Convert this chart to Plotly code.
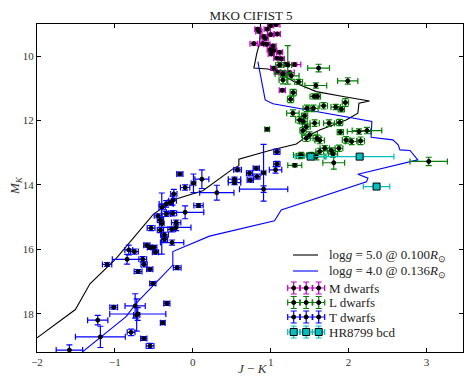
import plotly.graph_objects as go

# ---- model tracks (J-K, M_K) ----
g5_jk = [0.87, 0.858, 0.823, 0.785, 0.965, 1.072, 1.372, 1.587, 1.93, 2.27, 2.134, 2.12, 1.97, 1.63, 1.458,
         1.33, 0.986, 0.592, 0.592, 0.515, 0.129, -0.256, -0.513, -0.985, -1.32, -1.507, -2.0]
g5_mk = [9.0, 9.595, 9.906, 10.37, 10.40, 10.48, 10.89, 11.10, 11.25, 11.39, 11.46, 11.77, 11.98, 12.29, 12.50,
         12.73, 12.93, 13.20, 13.40, 13.50, 14.18, 14.47, 14.93, 16.29, 17.07, 17.87, 18.75]

g4_jk = [0.836, 0.90, 0.93, 1.03, 1.97, 2.30, 2.29, 2.57, 2.64, 2.66, 2.79, 2.89, 2.12, 2.25, 2.23,
         1.136, 1.05, 0.215, -0.256, -0.256, -0.727, -0.856, -1.413]
g4_mk = [10.17, 10.94, 11.36, 11.48, 11.88, 12.03, 12.52, 12.60, 12.76, 12.91, 12.93, 13.22, 13.67, 13.79, 13.90,
         14.78, 15.11, 15.59, 16.07, 16.49, 17.68, 18.09, 19.18]

# ---- M dwarfs ----
m_jk = [0.836, 0.849, 0.956, 1.07, 1.0, 1.085, 0.913, 0.785, 0.9, 0.952, 1.03, 0.995, 1.04, 1.115, 1.008,
        1.08, 1.136, 1.188, 1.04, 1.085, 1.157, 1.243, 1.307, 1.15, 1.0, 0.93]
m_mk = [9.16, 9.23, 9.16, 9.02, 9.33, 9.31, 9.39, 9.61, 9.61, 9.63, 9.68, 9.80, 9.82, 9.88, 9.93,
        10.06, 10.08, 10.25, 10.37, 10.49, 10.54, 10.51, 10.26, 11.06, 9.05, 9.45]
m_ejk = [0.04, 0.04, 0.04, 0.05, 0.04, 0.04, 0.04, 0.05, 0.04, 0.04, 0.04, 0.04, 0.04, 0.04, 0.04,
         0.04, 0.04, 0.05, 0.04, 0.04, 0.05, 0.06, 0.08, 0.04, 0.04, 0.04]
m_emk = [0.05] * len(m_jk)

# ---- L dwarfs ----
l_jk = [1.616, 1.99, 0.956, 3.03, 1.81, 1.31, 1.22, 1.115, 1.158, 1.158, 1.265, 1.36, 1.58, 1.29, 1.256,
        1.556, 1.60, 1.68, 1.96, 1.835, 1.908, 1.55, 1.466, 1.286, 1.436, 1.372, 1.42, 1.565, 1.75, 1.886,
        1.458, 1.416, 1.5, 1.595, 1.458, 1.63, 1.895, 2.134, 2.237, 1.97, 2.04, 2.155, 1.877, 1.78, 1.8,
        1.63, 1.587, 1.393, 1.695, 1.525, 1.38]
l_mk = [10.37, 10.77, 12.27, 13.27, 13.31, 13.39, 10.27, 10.27, 10.55, 10.74, 10.61, 10.8, 10.91, 11.13, 11.34,
        11.25, 11.25, 11.54, 11.44, 11.58, 11.65, 11.62, 11.62, 11.77, 11.85, 11.98, 12.03, 12.08, 12.08, 12.06,
        12.19, 12.31, 12.45, 12.55, 12.55, 12.62, 12.36, 12.34, 12.31, 12.6, 12.65, 12.63, 12.86, 12.93, 13.04,
        12.96, 13.12, 13.07, 12.86, 13.07, 13.1]
l_ejk = [0.14, 0.13, 0.03, 0.24, 0.14, 0.09, 0.05, 0.05, 0.1, 0.05, 0.1, 0.05, 0.14, 0.04, 0.04,
         0.05, 0.04, 0.05, 0.04, 0.06, 0.04, 0.06, 0.05, 0.08, 0.04, 0.05, 0.05, 0.06, 0.07, 0.04,
         0.05, 0.04, 0.1, 0.05, 0.05, 0.06, 0.04, 0.15, 0.19, 0.05, 0.08, 0.05, 0.05, 0.05, 0.06,
         0.05, 0.1, 0.1, 0.06, 0.06, 0.05]
l_emk = [0.12, 0.1, 0.05, 0.13, 0.2, 0.05, 0.6, 0.08, 0.1, 0.12, 0.1, 0.08, 0.08, 0.1, 0.1,
         0.08, 0.08, 0.1, 0.12, 0.08, 0.08, 0.1, 0.1, 0.1, 0.08, 0.1, 0.08, 0.1, 0.1, 0.1,
         0.08, 0.1, 0.1, 0.1, 0.1, 0.1, 0.08, 0.08, 0.1, 0.1, 0.1, 0.12, 0.1, 0.08, 0.1,
         0.1, 0.1, 0.08, 0.08, 0.08, 0.08]

# ---- T dwarfs ----
t_jk = [1.08, 1.08, 1.063, 0.909, 0.91, 0.815, 0.729, 0.824, 0.738, 0.575, 0.536, 0.536, 0.117, 0.009, -0.166,
        -0.098, 0.309, 0.074, -0.243, -0.26, -0.29, -0.342, -0.393, -0.445, -0.398, -0.342, -0.256, -0.098, -0.213, -0.213,
        -0.27, -0.415, -0.535, -0.415, -0.363, -0.363, -0.265, -0.59, -0.548, -0.5, -0.479, -0.749, -0.822, -0.843, -0.642,
        -0.625, -0.702, -0.552, -1.1, -0.513, -0.2, -0.333, -0.74, -1.015, -0.706, -0.72, -1.22, -0.385, -1.186, -0.792,
        -0.629, -0.548, -1.584]
t_mk = [12.97, 13.35, 13.53, 13.62, 14.13, 13.48, 13.64, 13.74, 13.85, 13.53, 13.82, 13.93, 13.82, 13.95, 13.66,
        14.08, 14.24, 14.64, 14.28, 14.49, 14.55, 14.59, 14.69, 14.96, 15.2, 14.9, 14.88, 14.85, 15.17, 15.32,
        15.38, 15.09, 15.34, 15.4, 15.55, 15.69, 15.79, 15.87, 15.94, 15.94, 16.09, 16.07, 16.02, 16.31, 16.31,
        16.47, 16.69, 16.62, 16.47, 17.06, 16.57, 17.68, 17.76, 17.8, 18.01, 18.04, 18.2, 18.28, 18.72, 18.58,
        18.77, 19.0, 19.13]
t_ejk = [0.04, 0.04, 0.08, 0.03, 0.31, 0.04, 0.04, 0.04, 0.04, 0.05, 0.08, 0.08, 0.09, 0.03, 0.04,
         0.06, 0.22, 0.06, 0.04, 0.05, 0.04, 0.09, 0.04, 0.05, 0.03, 0.06, 0.05, 0.24, 0.06, 0.19,
         0.05, 0.04, 0.05, 0.04, 0.05, 0.04, 0.15, 0.04, 0.035, 0.04, 0.04, 0.05, 0.05, 0.19, 0.05,
         0.04, 0.05, 0.04, 0.06, 0.04, 0.05, 0.04, 0.13, 0.05, 0.36, 0.04, 0.13, 0.03, 0.32, 0.05,
         0.04, 0.05, 0.17]
t_emk = [0.08, 0.08, 0.1, 0.88, 0.1, 0.06, 0.08, 0.08, 0.06, 0.06, 0.06, 0.06, 0.29, 0.29, 0.06,
         0.08, 0.23, 0.06, 0.14, 0.14, 0.08, 0.1, 0.08, 0.06, 0.95, 0.08, 0.08, 0.2, 0.08, 0.1,
         0.08, 0.08, 0.08, 0.08, 0.08, 0.08, 0.08, 0.06, 0.06, 0.06, 0.06, 0.08, 0.15, 0.15, 0.08,
         0.08, 0.06, 0.06, 0.06, 0.06, 0.06, 0.06, 0.38, 0.06, 0.2, 0.5, 0.15, 0.06, 0.33, 0.1,
         0.06, 0.08, 0.16]

# ---- HR8799 bcd ----
hr_jk = [1.514, 2.143, 2.36]
hr_mk = [13.12, 13.12, 14.05]
hr_ejk = [0.2, 0.44, 0.17]
hr_emk = [0.05, 0.05, 0.05]

# ---- legend labels ----
line_labels = ["log<i>g</i> = 5.0 @ 0.100<i>R</i><sub>⊙</sub>", "log<i>g</i> = 4.0 @ 0.136<i>R</i><sub>⊙</sub>"]
group_labels = ["M dwarfs", "L dwarfs", "T dwarfs", "HR8799 bcd"]

SERIF = "Liberation Serif"
C_M, C_L, C_T, C_HR = "#bf00bf", "#008000", "#0000ff", "#00bfbf"

# plot-area geometry in pixels (for the hand-built legend)
W, H = 464, 376
ML, MR, MT, MB = 37, 1, 24, 24
PW, PH = W - ML - MR, H - MT - MB


def px2x(px):
    return (px - ML) / PW


def px2y(py):
    return (H - MB - py) / PH


fig = go.Figure()

fig.add_trace(go.Scatter(x=g5_jk, y=g5_mk, mode="lines", line=dict(color="black", width=1.1), name=line_labels[0]))
fig.add_trace(go.Scatter(x=g4_jk, y=g4_mk, mode="lines", line=dict(color="#0000ff", width=1.1), name=line_labels[1]))


def pts(x, y, ex, ey, color, name, symbol="circle", fill="black", size=4, xa="x", ya="y"):
    return go.Scatter(
        x=x, y=y, mode="markers", name=name, xaxis=xa, yaxis=ya,
        marker=dict(symbol=symbol, size=size, color=fill, line=dict(color="black", width=1)),
        error_x=dict(type="data", array=ex, color=color, thickness=1.2, width=3),
        error_y=dict(type="data", array=ey, color=color, thickness=1.2, width=3),
    )


fig.add_trace(pts(m_jk, m_mk, m_ejk, m_emk, C_M, group_labels[0]))
fig.add_trace(pts(l_jk, l_mk, l_ejk, l_emk, C_L, group_labels[1]))
fig.add_trace(pts(t_jk, t_mk, t_ejk, t_emk, C_T, group_labels[2]))
fig.add_trace(pts(hr_jk, hr_mk, hr_ejk, hr_emk, C_HR, group_labels[3], symbol="square", fill=C_HR, size=7))

# ---- hand-built legend (matplotlib style, three samples per entry) on an overlay axis ----
leg_x = [px2x(293.7), px2x(306.2), px2x(318.7)]
leg_ex = [6 / PW] * 3
leg_ey = [6 / PH] * 3
leg_rows_lines = [255, 271]
leg_rows_pts = [288, 302.5, 317, 332]
text_x = px2x(327)

for row, col in zip(leg_rows_lines, ["black", "#0000ff"]):
    fig.add_trace(go.Scatter(x=[px2x(293), px2x(318)], y=[px2y(row)] * 2, mode="lines",
                             line=dict(color=col, width=1.1), xaxis="x2", yaxis="y2", hoverinfo="skip"))
styles = [(C_M, "circle", "black", 4), (C_L, "circle", "black", 4), (C_T, "circle", "black", 4),
          (C_HR, "square", C_HR, 7)]
for row, (col, sym, fill, sz) in zip(leg_rows_pts, styles):
    fig.add_trace(pts(leg_x, [px2y(row)] * 3, leg_ex, leg_ey, col, "", symbol=sym, fill=fill, size=sz,
                      xa="x2", ya="y2"))

annotations = []
for row, lab in zip(leg_rows_lines + leg_rows_pts, line_labels + group_labels):
    annotations.append(dict(x=text_x, y=px2y(row), xref="x2", yref="y2", text=lab, showarrow=False,
                            xanchor="left", yanchor="middle", font=dict(family=SERIF, size=13, color="#222")))
annotations.append(dict(x=px2x(253), y=px2y(368), xref="paper", yref="paper", text="<i>J</i> − <i>K</i>",
                        showarrow=False, xanchor="center", yanchor="middle",
                        font=dict(family=SERIF, size=13, color="#333")))
annotations.append(dict(x=px2x(15), y=px2y(186), xref="paper", yref="paper",
                        text="<i>M</i><sub><i>K</i></sub>", textangle=-90, showarrow=False,
                        xanchor="center", yanchor="middle", font=dict(family=SERIF, size=13, color="#333")))

axis_common = dict(showline=True, linecolor="black", linewidth=1, mirror="ticks", ticks="inside",
                   ticklen=4, tickwidth=1, tickcolor="black", showgrid=False, zeroline=False, automargin=False,
                   tickfont=dict(family=SERIF, size=11, color="#333"))

fig.update_layout(
    width=W, height=H,
    margin=dict(l=ML, r=MR, t=MT, b=MB, autoexpand=False),
    paper_bgcolor="white", plot_bgcolor="white",
    title=dict(text="MKO CIFIST 5", x=px2x(251), xref="paper", xanchor="center", y=1 - 15 / H, yanchor="middle",
               font=dict(family=SERIF, size=13, color="#222"), automargin=False),
    xaxis=dict(range=[-2, 3.47], tickvals=[-2, -1, 0, 1, 2, 3], ticktext=["−2", "−1", "0", "1", "2", "3"],
               **axis_common),
    yaxis=dict(range=[19.19, 9.0], tickvals=[10, 12, 14, 16, 18], **axis_common),
    xaxis2=dict(overlaying="x", range=[0, 1], visible=False, anchor="y2"),
    yaxis2=dict(overlaying="y", range=[0, 1], visible=False, anchor="x2"),
    showlegend=False,
    annotations=annotations,
)

fig.write_html("out.html", config={"displayModeBar": False},
               post_script="document.body.style.margin='0';document.body.style.overflow='hidden';")
